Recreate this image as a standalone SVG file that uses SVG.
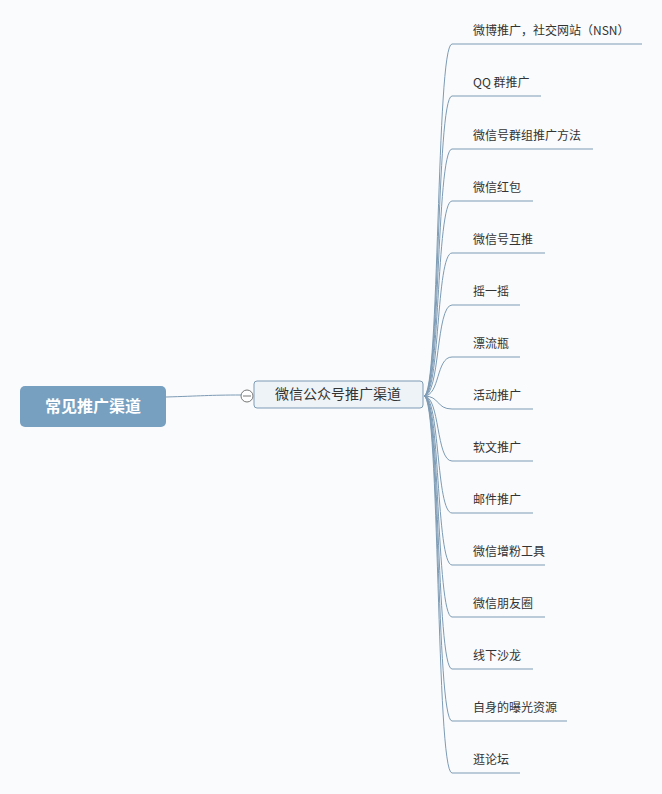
<svg xmlns="http://www.w3.org/2000/svg" width="662" height="794" viewBox="0 0 662 794">
<style>
text{font-family:"Noto Sans CJK SC","Liberation Sans",sans-serif}
.leaf{font-size:12px;fill:#333}
.c{fill:none;stroke:#7d9bb5;stroke-width:1}
</style>
<rect width="662" height="794" fill="#fafbfc"/>
<g id="connectors">
<path class="c" d="M166,397 C200,396 210,395 241,395"/>
<path class="c" d="M424,396 C440,396 436,44 452,44 H642"/>
<path class="c" d="M424,396 C440,396 436,96 452,96 H541"/>
<path class="c" d="M424,396 C440,396 436,149 452,149 H593"/>
<path class="c" d="M424,396 C440,396 436,201 452,201 H533"/>
<path class="c" d="M424,396 C440,396 436,253 452,253 H545"/>
<path class="c" d="M424,396 C440,396 436,305 452,305 H520"/>
<path class="c" d="M424,396 C440,396 436,357 452,357 H520"/>
<path class="c" d="M424,396 C440,396 436,409 452,409 H533"/>
<path class="c" d="M424,396 C440,396 436,461 452,461 H533"/>
<path class="c" d="M424,396 C440,396 436,513 452,513 H533"/>
<path class="c" d="M424,396 C440,396 436,565 452,565 H545"/>
<path class="c" d="M424,396 C440,396 436,617 452,617 H545"/>
<path class="c" d="M424,396 C440,396 436,669 452,669 H533"/>
<path class="c" d="M424,396 C440,396 436,721 452,721 H567"/>
<path class="c" d="M424,396 C440,396 436,773 452,773 H520"/>
</g>
<g id="root">
<rect x="20" y="386" width="146" height="41" rx="5" fill="#769fc0"/>
<text x="93" y="412" text-anchor="middle" font-size="16" font-weight="bold" fill="#fff">常见推广渠道</text>
</g>
<g id="main">
<circle cx="247" cy="396" r="6" fill="#fff" stroke="#777"/>
<line x1="243" y1="396" x2="251" y2="396" stroke="#777"/>
<rect x="254" y="381" width="169" height="27" rx="3" fill="#eef3f8" stroke="#7d9bb5"/>
<text x="338" y="399" text-anchor="middle" font-size="14" fill="#333">微信公众号推广渠道</text>
</g>
<g id="leaves" class="leaf">
<text class="leaf" x="473" y="35">微博推广，社交网站（NSN）</text>
<text class="leaf" x="473" y="87">QQ 群推广</text>
<text class="leaf" x="473" y="140">微信号群组推广方法</text>
<text class="leaf" x="473" y="192">微信红包</text>
<text class="leaf" x="473" y="244">微信号互推</text>
<text class="leaf" x="473" y="296">摇一摇</text>
<text class="leaf" x="473" y="348">漂流瓶</text>
<text class="leaf" x="473" y="400">活动推广</text>
<text class="leaf" x="473" y="452">软文推广</text>
<text class="leaf" x="473" y="504">邮件推广</text>
<text class="leaf" x="473" y="556">微信增粉工具</text>
<text class="leaf" x="473" y="608">微信朋友圈</text>
<text class="leaf" x="473" y="660">线下沙龙</text>
<text class="leaf" x="473" y="712">自身的曝光资源</text>
<text class="leaf" x="473" y="764">逛论坛</text>
</g>
</svg>
